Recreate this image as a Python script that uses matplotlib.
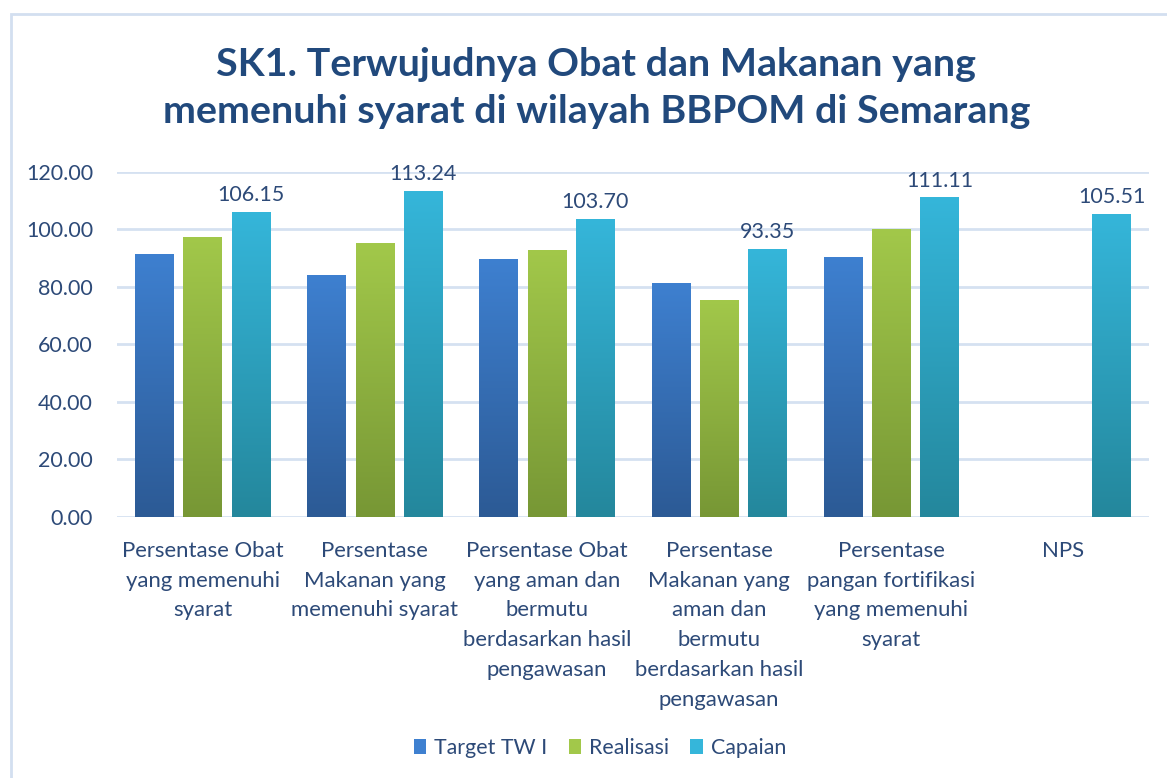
import numpy as np
import matplotlib
matplotlib.use("Agg")
import matplotlib.pyplot as plt
from matplotlib.colors import LinearSegmentedColormap
from matplotlib.patches import Rectangle

# data
categories = [
    "Persentase Obat\nyang memenuhi\nsyarat",
    "Persentase\nMakanan yang\nmemenuhi syarat",
    "Persentase Obat\nyang aman dan\nbermutu\nberdasarkan hasil\npengawasan",
    "Persentase\nMakanan yang\naman dan\nbermutu\nberdasarkan hasil\npengawasan",
    "Persentase\npangan fortifikasi\nyang memenuhi\nsyarat",
    "NPS",
]
target = [91.6, 84.0, 89.8, 81.4, 90.3, np.nan]
realisasi = [97.4, 95.2, 93.0, 75.6, 100.0, np.nan]
capaian = [106.15, 113.24, 103.70, 93.35, 111.11, 105.51]
series_names = ["Target TW I", "Realisasi", "Capaian"]
yticks = [0, 20, 40, 60, 80, 100, 120]

title = "SK1. Terwujudnya Obat dan Makanan yang\nmemenuhi syarat di wilayah BBPOM di Semarang"

# (bottom colour, top colour) for the gradient fill of each series
gradients = [("#2c5a95", "#3e80d0"), ("#779735", "#a2c84a"), ("#24879c", "#35b6da")]
text_color = "#2d4a78"
grid_color = "#d5e1f1"

plt.rcParams["font.family"] = ["Lato", "DejaVu Sans"]

fig = plt.figure(figsize=(11.67, 7.78), dpi=100)
ax = fig.add_axes([0.100, 0.3355, 0.885, 0.4435])

# outer chart border
fig.patches.append(Rectangle((11 / 1167, -0.1), 1.2, 1 - 14 / 778 + 0.1, transform=fig.transFigure,
                             fill=False, edgecolor="#d3dff0", linewidth=2))

x = np.arange(len(categories))
w = 0.225
step = 0.28
grad = np.linspace(0, 1, 256).reshape(-1, 1)

all_series = [target, realisasi, capaian]
handles = []
for i, vals in enumerate(all_series):
    bars = ax.bar(x + (i - 1) * step, vals, width=w, color=gradients[i][1], zorder=2,
                  label=series_names[i])
    cmap = LinearSegmentedColormap.from_list("g%d" % i, list(gradients[i]))
    for b in bars:
        h = b.get_height()
        if np.isnan(h):
            continue
        bx, by = b.get_xy()
        im = ax.imshow(grad, extent=[bx, bx + b.get_width(), by, by + h], origin="lower",
                       cmap=cmap, aspect="auto", zorder=2.1)
        im.set_clip_path(b)
    handles.append(bars)

# data labels on Capaian only
for xi, v in zip(x + step, capaian):
    ax.text(xi, v + 2.4, "%.2f" % v, ha="center", va="bottom", fontsize=15.5,
            color=text_color, clip_on=False)

ax.set_xlim(-0.5, len(categories) - 0.5)
ax.set_ylim(0, 120)
ax.set_yticks(yticks)
ax.set_yticklabels(["%.2f" % t for t in yticks])
ax.yaxis.grid(True, color=grid_color, linewidth=2)
ax.set_axisbelow(True)
for s in ax.spines.values():
    s.set_visible(False)
ax.tick_params(axis="y", length=0, pad=17, labelsize=15.5, labelcolor=text_color)
ax.set_xticks(x)
ax.set_xticklabels(categories, fontsize=15.9, color=text_color, linespacing=1.62, va="top")
ax.tick_params(axis="x", length=0, pad=17)

fig.text(0.511, 0.887, title, ha="center", va="center", fontsize=28.4, fontweight="bold",
         color="#21497c", linespacing=1.43)

leg = fig.legend(handles, series_names, loc="center", bbox_to_anchor=(0.514, 0.039), ncol=3,
                 frameon=False, fontsize=15.4, handlelength=0.6, handleheight=0.7,
                 handletextpad=0.35, columnspacing=1.0)
for t in leg.get_texts():
    t.set_color(text_color)

fig.savefig("out.png", dpi=100)
